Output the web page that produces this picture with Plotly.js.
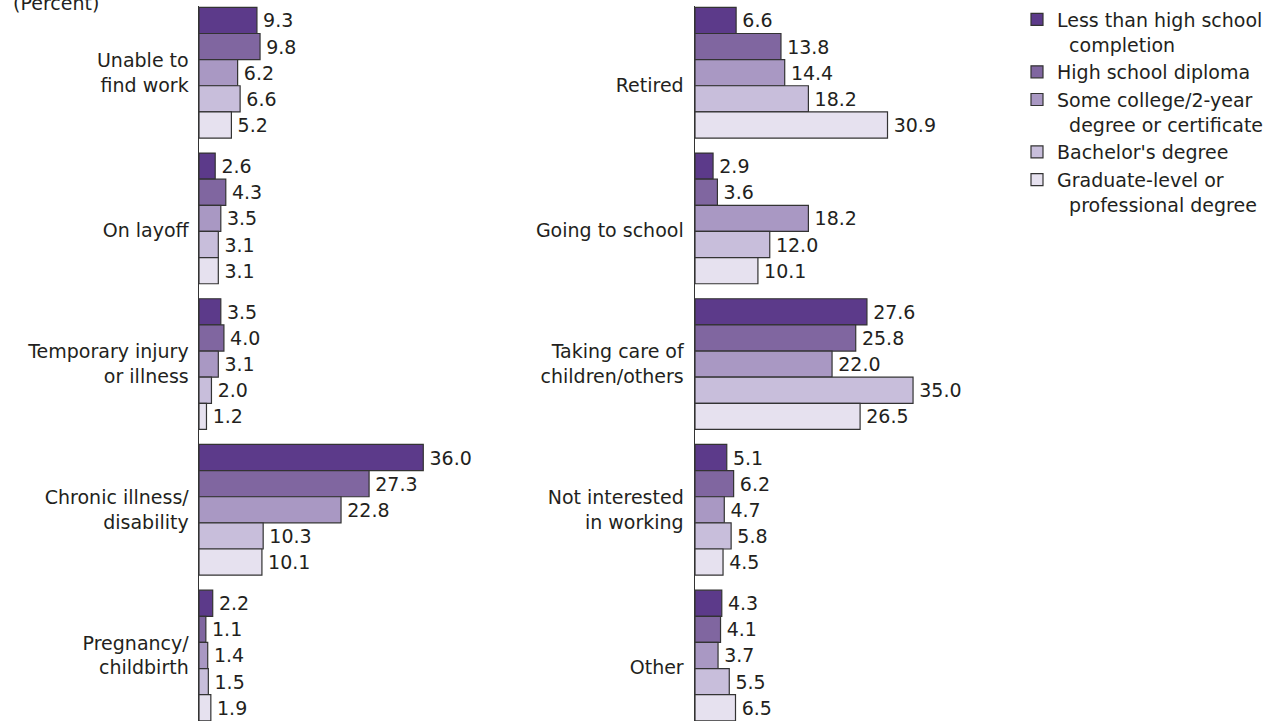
<!DOCTYPE html>
<html>
<head>
<meta charset="utf-8">
<script src="https://cdn.plot.ly/plotly-3.0.1.min.js"></script>
<style>
html,body{margin:0;padding:0;background:#fff;}
#chart{width:1276px;height:721px;}
</style>
</head>
<body>
<div id="chart"></div>
<script>
// ---- data ----
const leftCategories = ["Unable to<br>find work", "On layoff", "Temporary injury<br>or illness", "Chronic illness/<br>disability", "Pregnancy/<br>childbirth"];
const rightCategories = ["Retired", "Going to school", "Taking care of<br>children/others", "Not interested<br>in working", "Other"];

const seriesNames = [
  "Less than high school<br>\u00A0\u00A0completion",
  "High school diploma",
  "Some college/2-year<br>\u00A0\u00A0degree or certificate",
  "Bachelor's degree",
  "Graduate-level or<br>\u00A0\u00A0professional degree"
];

const lessThanHSLeft   = [9.3, 2.6, 3.5, 36.0, 2.2];
const lessThanHSRight  = [6.6, 2.9, 27.6, 5.1, 4.3];
const hsDiplomaLeft    = [9.8, 4.3, 4.0, 27.3, 1.1];
const hsDiplomaRight   = [13.8, 3.6, 25.8, 6.2, 4.1];
const someCollegeLeft  = [6.2, 3.5, 3.1, 22.8, 1.4];
const someCollegeRight = [14.4, 18.2, 22.0, 4.7, 3.7];
const bachelorLeft     = [6.6, 3.1, 2.0, 10.3, 1.5];
const bachelorRight    = [18.2, 12.0, 35.0, 5.8, 5.5];
const graduateLeft     = [5.2, 3.1, 1.2, 10.1, 1.9];
const graduateRight    = [30.9, 10.1, 26.5, 4.5, 6.5];

// ---- styles ----
const colors = ["#5c3a8a", "#8066a0", "#a998c3", "#c8bedb", "#e6e1ef"];
const FONT = "DejaVu Sans, sans-serif";
const TEXT = "#231f20";
const FS = 19;
const W = 1276;
const PX_PER_UNIT = 6.23;

const leftSeries  = [lessThanHSLeft, hsDiplomaLeft, someCollegeLeft, bachelorLeft, graduateLeft];
const rightSeries = [lessThanHSRight, hsDiplomaRight, someCollegeRight, bachelorRight, graduateRight];

const leftDomain = [199 / W, 0.48];
const rightDomain = [695 / W, 0.78];

// single-line labels sit half a line lower in the original layout
function displayLabel(c) { return c.indexOf("<br>") >= 0 ? c : "\u00A0<br>" + c; }

function mkTrace(vals, cats, i, xa, ya, showLegend) {
  return {
    type: "bar",
    orientation: "h",
    x: vals,
    y: cats,
    name: seriesNames[i],
    legendgroup: "g" + i,
    showlegend: showLegend,
    xaxis: xa,
    yaxis: ya,
    marker: { color: colors[i], line: { color: "#333333", width: 1.2 } },
    text: vals.map(v => "\u2006" + v.toFixed(1)),
    textposition: "outside",
    constraintext: "none",
    cliponaxis: false,
    textfont: { family: FONT, size: FS, color: TEXT },
    hoverinfo: "skip"
  };
}

const traces = [];
for (let i = 0; i < 5; i++) traces.push(mkTrace(leftSeries[i], leftCategories, i, "x", "y", true));
for (let i = 0; i < 5; i++) traces.push(mkTrace(rightSeries[i], rightCategories, i, "x2", "y2", false));

const yRange = [4.4496, -0.4578];

function xAxis(domain, anchor) {
  return {
    domain: domain,
    anchor: anchor,
    range: [0, (domain[1] - domain[0]) * W / PX_PER_UNIT],
    showgrid: false, zeroline: false, showline: false,
    showticklabels: false, ticks: "", fixedrange: true
  };
}
function yAxis(anchor, cats, standoff) {
  return {
    anchor: anchor,
    type: "category",
    categoryorder: "array",
    categoryarray: cats,
    range: yRange,
    tickmode: "array",
    tickvals: cats,
    ticktext: cats.map(displayLabel),
    showgrid: false, zeroline: false,
    showline: true, linecolor: "#333333", linewidth: 1.5,
    ticks: "", ticklabelstandoff: standoff,
    tickfont: { family: FONT, size: FS, color: TEXT },
    fixedrange: true
  };
}

const layout = {
  width: 1276, height: 721,
  margin: { l: 0, r: 0, t: 6, b: 0 },
  paper_bgcolor: "#ffffff",
  plot_bgcolor: "rgba(0,0,0,0)",
  barmode: "group",
  bargap: 0.103,
  bargroupgap: 0,
  font: { family: FONT, size: FS, color: TEXT },
  xaxis: xAxis(leftDomain, "y"),
  yaxis: yAxis("x", leftCategories, 5),
  xaxis2: xAxis(rightDomain, "y2"),
  yaxis2: yAxis("x2", rightCategories, 6),
  showlegend: true,
  legend: {
    x: 1017 / W, xanchor: "left",
    y: 1.0076, yanchor: "top",
    traceorder: "normal",
    valign: "top",
    font: { family: FONT, size: FS, color: TEXT },
    bgcolor: "rgba(0,0,0,0)",
    tracegroupgap: 0,
    itemclick: false, itemdoubleclick: false
  },
  annotations: [{
    text: "(Percent)",
    xref: "paper", yref: "paper",
    x: 0, xanchor: "left", xshift: 11,
    y: 1, yanchor: "middle", yshift: 3,
    showarrow: false,
    font: { family: FONT, size: FS, color: TEXT }
  }]
};

Plotly.newPlot("chart", traces, layout, { displayModeBar: false, staticPlot: true });
</script>
</body>
</html>
